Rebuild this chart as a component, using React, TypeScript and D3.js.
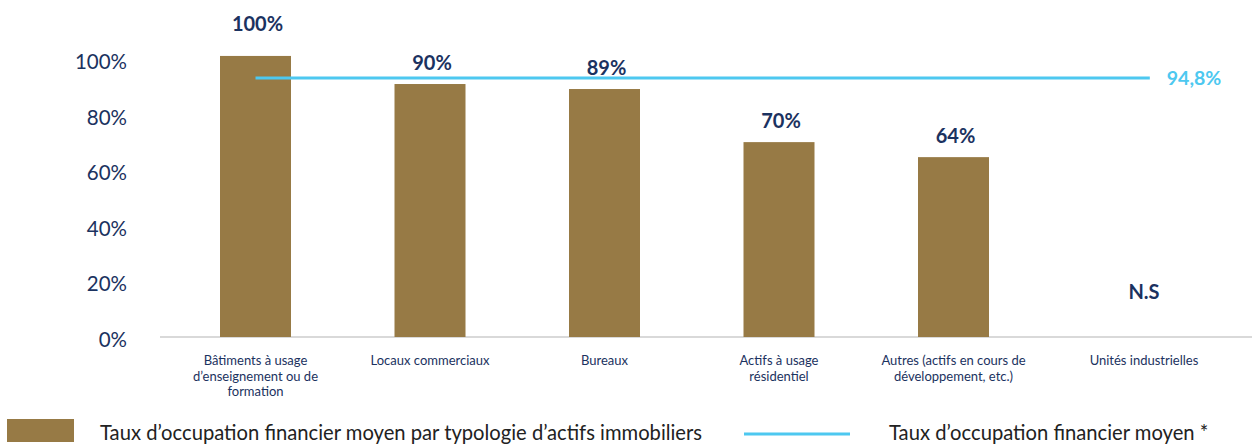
import React from "react";
import * as d3 from "d3";

const categories: string[][] = [
  ["Bâtiments à usage", "d’enseignement ou de", "formation"],
  ["Locaux commerciaux"],
  ["Bureaux"],
  ["Actifs à usage", "résidentiel"],
  ["Autres (actifs en cours de", "développement, etc.)"],
  ["Unités industrielles"],
];
const barValues: (number | null)[] = [101.1, 91.0, 89.2, 70.1, 64.7, null];
const barLabels: string[] = ["100%", "90%", "89%", "70%", "64%", "N.S"];
const averageValue = 93.2;
const averageLabel = "94,8%";
const yTicks: number[] = [0, 20, 40, 60, 80, 100];
const legendBar = "Taux d’occupation financier moyen par typologie d’actifs immobiliers";
const legendLine = "Taux d’occupation financier moyen *";

const W = 1252;
const H = 444;
const BROWN = "#977A45";
const NAVY = "#1B3260";
const BLUE = "#4DC8F0";
const FONT = "Lato, 'Open Sans', sans-serif";

export default function App() {
  const keys = categories.map((_, i) => String(i));
  const pad = 1 - 71 / 174.5;
  const x = d3
    .scaleBand<string>()
    .domain(keys)
    .range([168.25, 168.25 + 6 * 174.5])
    .paddingInner(pad)
    .paddingOuter(pad / 2);
  const y = d3.scaleLinear().domain([0, 100]).range([337, 59]);
  const step = x.step();
  const bw = x.bandwidth();
  const cx = (i: number) => (x(keys[i]) as number) + bw / 2;
  const lineStart = cx(0);
  const lineEnd = cx(keys.length - 1) + step * 0.125;
  const lastShift = 16;

  return (
    <div style={{ position: "absolute", left: 0, top: 0 }}>
      <svg width={W} height={H} style={{ display: "block" }} fontFamily={FONT}>
        {yTicks.map((t) => (
          <text
            key={t}
            x={127}
            y={y(t) + 2}
            textAnchor="end"
            dominantBaseline="central"
            fontSize={20.5}
            fill={NAVY}
          >
            {t}%
          </text>
        ))}
        <line x1={160} x2={W} y1={y(0)} y2={y(0)} stroke="#D9D9D9" strokeWidth={2} />
        {barValues.map((v, i) =>
          v == null ? null : (
            <rect
              key={i}
              x={x(keys[i]) as number}
              y={y(v)}
              width={bw}
              height={y(0) - y(v)}
              fill={BROWN}
            />
          )
        )}
        <line
          x1={lineStart}
          x2={lineEnd}
          y1={y(averageValue)}
          y2={y(averageValue)}
          stroke={BLUE}
          strokeWidth={3}
        />
        <text
          x={lineEnd + 17}
          y={y(averageValue)}
          dominantBaseline="central"
          fontSize={19.5}
          fontWeight={700}
          fill={BLUE}
        >
          {averageLabel}
        </text>
        {barLabels.map((lab, i) => {
          const v = barValues[i];
          const yy = v == null ? y(0) - 46 : y(v) - (i === 0 ? 33 : 22);
          return (
            <text
              key={i}
              x={cx(i) + (v == null ? lastShift : 2)}
              y={yy}
              textAnchor="middle"
              dominantBaseline="central"
              fontSize={20}
              fontWeight={700}
              fill={NAVY}
            >
              {lab}
            </text>
          );
        })}
        {categories.map((lines, i) => {
          const tx = cx(i) + (i === keys.length - 1 ? lastShift : 0);
          return (
            <text key={i} x={tx} textAnchor="middle" fontSize={13} fill={NAVY}>
              {lines.map((ln, j) => (
                <tspan key={j} x={tx} y={y(0) + 28 + j * 15.5}>
                  {ln}
                </tspan>
              ))}
            </text>
          );
        })}
        <rect x={7} y={419} width={67} height={23} fill={BROWN} />
        <text x={100} y={432} dominantBaseline="central" fontSize={20.2} fill="#222">
          {legendBar}
        </text>
        <line x1={744} x2={850} y1={434} y2={434} stroke={BLUE} strokeWidth={3} />
        <text x={889} y={432} dominantBaseline="central" fontSize={20.2} fill="#222">
          {legendLine}
        </text>
      </svg>
    </div>
  );
}
